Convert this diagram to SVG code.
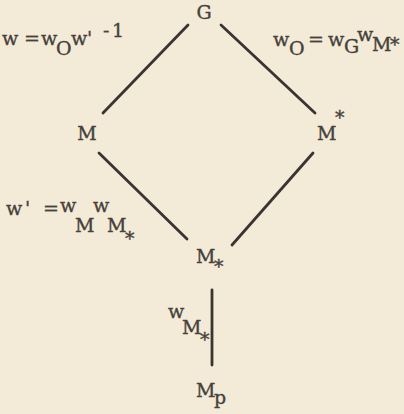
<svg xmlns="http://www.w3.org/2000/svg" width="404" height="414" viewBox="0 0 404 414">
<style>
.t{font-family:"DejaVu Serif","Liberation Serif",serif;font-size:19px;fill:#46413b;stroke:#46413b;stroke-width:0.35}
.e{stroke:#3a3530;stroke-width:2.8;stroke-linecap:round;fill:none}
</style>
<rect width="404" height="414" fill="#f3ead8"/>
<g id="connectors">
<line class="e" x1="188" y1="25" x2="103" y2="113"/>
<line class="e" x1="221" y1="25" x2="315" y2="113"/>
<line class="e" x1="99" y1="153" x2="187" y2="239"/>
<line class="e" x1="313" y1="153" x2="232" y2="245"/>
<line class="e" x1="212" y1="290" x2="212" y2="365"/>
<text class="t"><tspan x="2" y="45">w</tspan><tspan x="24" y="45">=</tspan><tspan x="41" y="45">w</tspan><tspan x="56" y="55">O</tspan><tspan x="71" y="45">w</tspan><tspan x="87" y="45">'</tspan><tspan x="103" y="37">-</tspan><tspan x="112" y="37">1</tspan></text>
<text class="t"><tspan x="273" y="46">w</tspan><tspan x="289" y="55">O</tspan><tspan x="308" y="46">=</tspan><tspan x="328" y="46">w</tspan><tspan x="344" y="53">G</tspan><tspan x="357" y="41">w</tspan><tspan x="372" y="51">M</tspan><tspan x="390" y="51">*</tspan></text>
<text class="t"><tspan x="6" y="215">w</tspan><tspan x="25" y="215">'</tspan><tspan x="43" y="215">=</tspan><tspan x="60" y="212">w</tspan><tspan x="75" y="232">M</tspan><tspan x="93" y="212">w</tspan><tspan x="107" y="232">M</tspan><tspan x="125" y="245">*</tspan></text>
<text class="t"><tspan x="168" y="318">w</tspan><tspan x="182" y="334">M</tspan><tspan x="200" y="346">*</tspan></text>
</g>
<g id="node-G"><text class="t" x="204" y="19" text-anchor="middle">G</text></g>
<g id="node-M"><text class="t" x="87" y="140" text-anchor="middle">M</text></g>
<g id="node-Mstar"><text class="t"><tspan x="317" y="140">M</tspan><tspan x="335" y="124">*</tspan></text></g>
<g id="node-Mlow"><text class="t"><tspan x="196" y="263">M</tspan><tspan x="214" y="273">*</tspan></text></g>
<g id="node-Mp"><text class="t"><tspan x="196" y="397">M</tspan><tspan x="214" y="404">p</tspan></text></g>
</svg>
